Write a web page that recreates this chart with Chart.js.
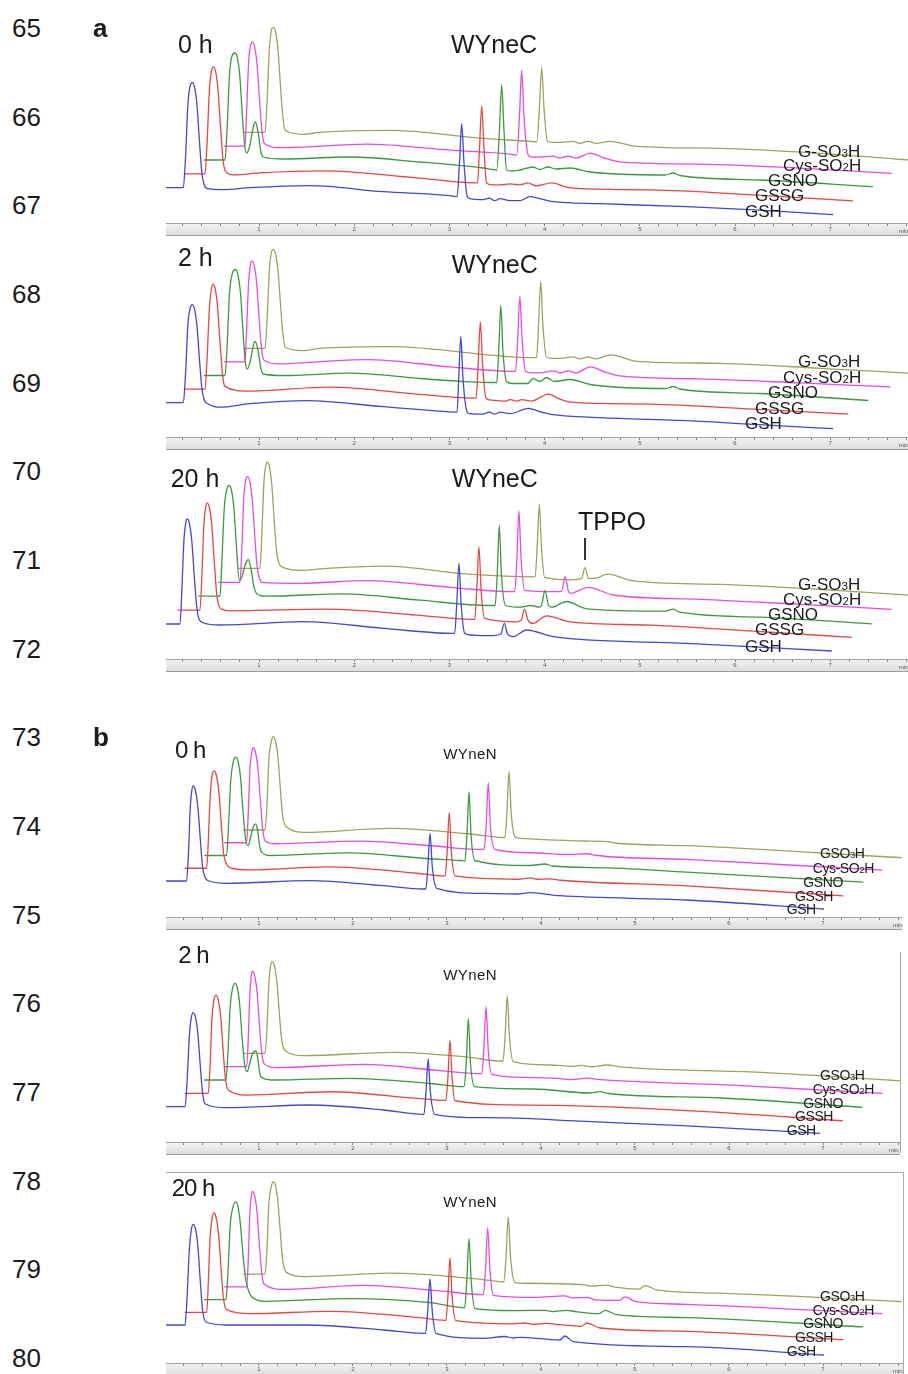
<!DOCTYPE html>
<html>
<head>
<meta charset="utf-8">
<script src="https://cdn.jsdelivr.net/npm/chart.js@4.4.1/dist/chart.umd.min.js"></script>
<style>
  html, body { margin: 0; padding: 0; background: #fff; }
  body { width: 908px; height: 1374px; position: relative; overflow: hidden;
         font-family: 'Liberation Sans', Arial, sans-serif; color: #1a1a1a; }
  .txt { position: absolute; line-height: 1; white-space: nowrap; }
  .txt sub { font-size: 0.68em; vertical-align: baseline; line-height: 1; }
  .panel { position: absolute; }
  .frame { position: absolute; background: #a8a8a8; }
</style>
</head>
<body>
<script>
// ===================================
// HPLC traces, WYneC (a) and WYneN (b)
// each trace: [time (min), signal] pairs, signal relative to the trace's own start baseline
// ===================================

// --- a, 0 h ---
const a0_GSH = [0.02,0, 0.205,0, 0.228,30, 0.254,85, 0.275,101, 0.299,105, 0.324,100, 0.349,82, 0.374,47, 0.399,16, 0.424,3, 0.464,-1, 0.622,-2, 0.905,0, 1.536,2, 2.303,-4, 3.006,-8, 3.08,-9, 3.106,25, 3.129,64, 3.153,25, 3.185,-8, 3.216,-11, 3.353,-12, 3.42,-10.5, 3.475,-13, 3.53,-11, 3.636,-13, 3.74,-13, 3.845,-9, 3.95,-11, 4.088,-14, 4.58,-16, 5.495,-19, 6.26,-22.5, 7.03,-27];
const a0_GSSG = [0,0, 0.223,0, 0.244,30, 0.27,86, 0.29,103, 0.31,107, 0.335,102, 0.36,83, 0.385,48, 0.41,16, 0.435,3, 0.52,-1, 0.80,1, 1.462,3, 2.447,-4, 3.059,-9, 3.085,-9, 3.106,25, 3.129,68, 3.153,25, 3.18,-9, 3.237,-11, 3.32,-11, 3.426,-10, 3.53,-11, 3.616,-9, 3.70,-12, 3.865,-9, 4.057,-14, 4.90,-16, 5.98,-21, 7.03,-27];
const a0_GSNO = [0,0, 0.223,0, 0.244,30, 0.27,85, 0.296,104, 0.328,107, 0.353,102, 0.378,84, 0.403,48, 0.428,16, 0.45,7, 0.485,15, 0.517,32, 0.541,38, 0.57,28, 0.60,8, 0.625,3, 0.835,1, 1.536,3, 2.27,-2, 2.936,-8, 3.077,-10, 3.106,30, 3.129,75, 3.153,30, 3.18,-10, 3.237,-11, 3.32,-10, 3.458,-7, 3.53,-9.5, 3.616,-7, 3.70,-9, 3.847,-8, 4.057,-12, 4.845,-15, 4.93,-13, 5.0,-15.5, 5.843,-20, 7.03,-26.7];
const a0_CysSO2H = [0,0, 0.223,0, 0.238,30, 0.26,82, 0.28,100, 0.30,104, 0.325,99, 0.35,81, 0.375,47, 0.40,16, 0.425,3, 0.59,-1.5, 0.80,-1, 1.50,2, 2.376,-4, 3.006,-8, 3.077,-9, 3.106,30, 3.129,76, 3.153,30, 3.198,-9, 3.237,-11, 3.32,-11, 3.458,-10, 3.53,-12, 3.616,-10, 3.70,-12, 3.847,-7, 4.0,-12, 4.16,-15.7, 5.0,-18, 6.05,-22, 7.016,-27.3];
const a0_GSO3H = [0,0, 0.223,0, 0.244,30, 0.27,85, 0.29,102, 0.31,105, 0.335,100, 0.36,82, 0.385,47, 0.41,16, 0.435,2, 0.625,-2, 0.80,0, 1.536,2, 2.513,-6, 3.006,-9, 3.077,-9.5, 3.106,25, 3.129,64.6, 3.153,25, 3.19,-9, 3.237,-10, 3.32,-10, 3.458,-9, 3.53,-11, 3.616,-9, 3.70,-11, 3.847,-9, 4.127,-14, 5.0,-16, 6.05,-21, 7.03,-28];

// --- a, 2 h ---
const a1_GSH = [0.02,0, 0.205,0, 0.228,28, 0.254,80, 0.275,94, 0.299,98, 0.324,93, 0.349,76, 0.374,44, 0.399,15, 0.424,3, 0.464,-1, 0.59,-4.5, 0.905,-1, 1.50,2, 2.303,-4, 2.975,-9, 3.08,-9.5, 3.098,25, 3.12,66, 3.142,25, 3.185,-9, 3.216,-11, 3.35,-11.5, 3.42,-9.5, 3.475,-11.5, 3.53,-9.5, 3.636,-11, 3.83,-5.6, 3.95,-9, 4.09,-12, 4.58,-15, 5.495,-18, 6.26,-22, 7.03,-26];
const a1_GSSG = [0,0, 0.223,0, 0.244,30, 0.27,83, 0.29,100, 0.305,105, 0.33,100, 0.355,82, 0.38,47, 0.405,16, 0.43,3, 0.66,-2, 1.536,2, 2.447,-5, 3.04,-9, 3.07,-9, 3.092,25, 3.115,67, 3.138,25, 3.175,-9.5, 3.23,-11, 3.38,-12, 3.426,-10.5, 3.5,-12, 3.55,-10.5, 3.65,-12, 3.83,-5, 3.95,-10, 4.06,-13, 4.9,-15, 5.98,-20, 6.98,-25];
const a1_GSNO = [0,0, 0.223,0, 0.244,28, 0.27,82, 0.30,102, 0.335,106, 0.36,100, 0.385,83, 0.41,47, 0.435,14, 0.457,6.4, 0.49,15, 0.52,30, 0.541,34, 0.57,25, 0.60,7, 0.625,1.5, 0.835,0, 1.536,2.4, 2.27,-3, 2.796,-6.3, 3.077,-7, 3.098,25, 3.12,70, 3.142,25, 3.18,-6, 3.237,-8, 3.40,-8, 3.46,-3, 3.53,-6, 3.60,-2, 3.68,-6, 3.85,-4, 4.06,-9, 4.85,-13, 4.93,-11, 5.0,-13.5, 5.84,-18, 6.98,-25];
const a1_CysSO2H = [0,0, 0.223,0, 0.238,28, 0.26,78, 0.28,97, 0.295,101, 0.32,96, 0.345,79, 0.37,45, 0.395,15, 0.42,2, 0.59,-2, 0.80,-1, 1.50,2.3, 2.376,-5, 3.04,-9.4, 3.065,-9.4, 3.088,25, 3.11,65.6, 3.132,25, 3.17,-9.4, 3.237,-11, 3.32,-11, 3.46,-9, 3.53,-11, 3.62,-9, 3.70,-11, 3.85,-5, 4.0,-10, 4.16,-14, 5.0,-17, 6.05,-21, 7.0,-25];
const a1_GSO3H = [0,0, 0.223,0, 0.244,28, 0.27,80, 0.29,96, 0.31,99, 0.335,94, 0.36,77, 0.385,45, 0.41,15, 0.435,1, 0.625,-2.4, 0.80,0, 1.536,1.6, 3.04,-9.4, 3.075,-9.4, 3.097,25, 3.119,66.6, 3.141,25, 3.18,-9, 3.237,-10, 3.32,-10, 3.458,-8.5, 3.53,-10.5, 3.616,-8.5, 3.70,-10.5, 3.85,-6.5, 4.13,-13, 5.0,-15, 6.05,-20, 7.03,-25];

// --- a, 20 h ---
const a2_GSH = [-0.06,0, 0.17,0, 0.19,35, 0.212,85, 0.232,102, 0.247,105, 0.27,100, 0.295,82, 0.32,48, 0.345,18, 0.37,5, 0.42,1, 0.59,-1, 1.465,2.3, 2.306,-4.3, 3.024,-9.3, 3.055,-9.3, 3.077,20, 3.10,60.7, 3.123,20, 3.16,-9.3, 3.22,-11, 3.426,-11.7, 3.54,-10, 3.577,0.7, 3.61,-10, 3.67,-12.7, 3.81,-6, 4.09,-12.7, 5.49,-19.3, 7.016,-27];
const a2_GSSG = [-0.064,0, 0.17,0, 0.19,35, 0.212,87, 0.232,104, 0.247,107, 0.27,102, 0.295,84, 0.32,48, 0.345,17, 0.37,4, 0.40,1, 0.485,-0.7, 1.50,1, 2.447,-5, 3.024,-9.3, 3.055,-9.3, 3.077,20, 3.10,63.3, 3.123,20, 3.16,-8.3, 3.497,-11.7, 3.545,-10, 3.579,1, 3.615,-10, 3.668,-13.3, 3.81,-5.7, 4.057,-11.7, 4.90,-15, 5.98,-21, 7.016,-27.3];
const a2_GSNO = [-0.058,0, 0.17,0, 0.19,35, 0.215,88, 0.24,106, 0.268,110.7, 0.293,105, 0.318,86, 0.343,50, 0.373,16, 0.40,19, 0.43,30, 0.467,36.7, 0.50,25, 0.53,8, 0.556,2.4, 0.65,0, 1.465,2.4, 2.27,-4, 3.006,-9.3, 3.06,-9.3, 3.082,22, 3.104,70.7, 3.126,22, 3.17,-9.3, 3.32,-11, 3.43,-9.3, 3.53,-11, 3.55,-8, 3.584,5.7, 3.62,-9, 3.654,-11, 3.81,-5.3, 4.02,-12.6, 4.85,-15, 4.93,-13, 5.0,-16, 5.84,-21, 7.016,-27.6];
const a2_CysSO2H = [-0.058,0, 0.17,0, 0.19,35, 0.212,87, 0.232,103, 0.251,105.6, 0.275,100, 0.30,82, 0.325,47, 0.35,16, 0.375,4, 0.40,0, 0.80,-1, 1.50,1.6, 2.376,-5, 3.024,-9.4, 3.057,-9.4, 3.079,25, 3.10,71.3, 3.122,25, 3.16,-8, 3.461,-9.4, 3.55,-9, 3.584,5.6, 3.62,-9, 3.637,-11, 3.83,-5, 4.09,-12.7, 5.0,-17, 6.05,-22, 7.016,-27];
const a2_GSO3H = [-0.058,0, 0.17,0, 0.19,35, 0.212,87, 0.232,103, 0.247,106.6, 0.27,101, 0.295,83, 0.32,48, 0.345,17, 0.37,5, 0.398,1.6, 0.62,-2, 0.80,-0.5, 1.465,2.3, 2.4,-6, 3.041,-8.4, 3.06,-8.4, 3.082,22, 3.104,64, 3.126,22, 3.16,-9, 3.43,-11.4, 3.55,-10, 3.584,1, 3.62,-10, 3.69,-10, 3.82,-5.7, 4.09,-12.4, 5.0,-16, 6.05,-21, 7.03,-27];
// TPPO marker on the G-SO3H trace, 20 h: [time, low signal, high signal]
const a2_tppoMark = [3.584, 8.4, 30.4];

// --- b, 0 h ---
const b0_GSH = [0.01,0, 0.23,0, 0.25,28, 0.27,75, 0.285,90, 0.30,95, 0.325,90, 0.35,74, 0.375,43, 0.40,14, 0.425,4, 0.47,0, 0.656,-2.3, 1.54,0.3, 2.32,-4.7, 2.748,-8, 2.775,-8, 2.797,15, 2.82,47.7, 2.843,15, 2.89,-7.3, 3.386,-12.3, 3.75,-13, 3.883,-11.7, 4.2,-14.7, 5.55,-19, 7.01,-28];
const b0_GSSH = [0,0, 0.234,0, 0.25,25, 0.27,70, 0.29,92, 0.314,97.3, 0.339,92, 0.364,76, 0.389,44, 0.414,15, 0.446,4, 0.50,0, 0.694,-1.7, 1.51,1.3, 2.47,-5, 2.75,-7.7, 2.77,-7.7, 2.792,17, 2.814,55.7, 2.836,17, 2.875,-7.7, 3.55,-11, 3.673,-9.7, 3.75,-11, 3.886,-10.7, 4.0,-12, 5.34,-17.7, 7.006,-27.7];
const b0_GSNO = [0,0, 0.236,0, 0.255,28, 0.28,75, 0.31,95, 0.335,98.4, 0.36,93, 0.385,77, 0.41,44, 0.44,15, 0.466,10, 0.49,18, 0.52,29, 0.548,31.7, 0.57,22, 0.59,8, 0.609,3.4, 0.70,0, 1.548,2.7, 2.35,-3, 2.718,-5, 2.77,-5.5, 2.792,20, 2.814,63.4, 2.836,20, 2.878,-5, 3.463,-10, 3.623,-8.5, 3.7,-10.5, 4.279,-12.3, 5.13,-16.6, 7.009,-26.6];
const b0_CysSO2H = [0,0, 0.239,0, 0.255,28, 0.275,75, 0.293,90, 0.309,95, 0.334,90, 0.359,74, 0.384,43, 0.409,14, 0.434,2, 0.55,-1, 1.45,1.6, 2.2,-3, 2.721,-6.7, 2.765,-6.7, 2.787,18, 2.809,60, 2.831,18, 2.88,-6.7, 3.253,-10, 3.643,-11.7, 3.873,-11, 3.95,-12.5, 4.92,-16.7, 7.0,-27.4];
const b0_GSO3H = [-0.007,0, 0.224,0, 0.245,25, 0.265,70, 0.29,88, 0.312,93.3, 0.337,88, 0.362,73, 0.387,42, 0.412,14, 0.455,3, 0.649,-2.3, 1.554,1.7, 2.4,-4, 2.724,-7.3, 2.775,-7.5, 2.797,17, 2.82,58.3, 2.843,17, 2.883,-6.7, 2.937,-8.3, 3.61,-11, 3.876,-11.7, 3.95,-13, 4.71,-15.7, 7.0,-27.7];

// --- b, 2 h ---
const b1_GSH = [0.01,0, 0.213,0, 0.235,25, 0.26,72, 0.28,89, 0.30,94, 0.325,89, 0.35,73, 0.375,42, 0.40,14, 0.425,3, 0.656,-1, 1.543,1.7, 2.322,-3.3, 2.741,-7.6, 2.755,-7.6, 2.777,15, 2.80,47.7, 2.823,15, 2.87,-7.6, 3.386,-11, 3.9,-12, 4.3,-14, 5.5,-19, 6.968,-26.6];
const b1_GSSH = [0,0, 0.25,0, 0.27,28, 0.29,75, 0.31,93, 0.333,98.3, 0.358,93, 0.383,77, 0.408,44, 0.433,15, 0.463,3.3, 0.659,-1.7, 1.545,1.6, 2.468,-5, 2.769,-7, 2.778,-7, 2.80,16, 2.822,53.3, 2.844,16, 2.875,-7.4, 3.673,-11.7, 4.0,-12, 5.5,-18, 7.0,-27.4];
const b1_GSNO = [-0.005,0, 0.229,0, 0.25,28, 0.275,75, 0.30,92, 0.325,96.7, 0.35,92, 0.375,75, 0.40,43, 0.43,14, 0.456,8.3, 0.48,16, 0.51,26, 0.548,29, 0.57,20, 0.59,6, 0.626,1.7, 0.75,0, 1.548,1.7, 2.4,-3.5, 2.753,-6.7, 2.763,-6.7, 2.785,18, 2.807,61.7, 2.829,18, 2.875,-6.7, 3.5,-9, 4.1,-13, 4.207,-11.7, 4.3,-13.5, 5.5,-18, 7.0,-27.3];
const b1_CysSO2H = [0,0, 0.239,0, 0.255,25, 0.272,72, 0.287,90, 0.299,95.6, 0.324,91, 0.349,75, 0.374,43, 0.399,14, 0.424,3, 0.55,-1, 1.48,2.3, 2.3,-4, 2.721,-7, 2.74,-7, 2.762,18, 2.785,60, 2.808,18, 2.845,-7.7, 3.3,-11, 3.572,-12, 3.7,-13, 3.856,-11.5, 4.0,-13, 5.5,-19, 7.0,-26.7];
const b1_GSO3H = [-0.007,0, 0.224,0, 0.245,25, 0.265,70, 0.283,87, 0.301,91.6, 0.326,87, 0.351,71, 0.376,41, 0.401,14, 0.455,1.6, 0.639,-2.4, 1.589,1, 2.4,-4, 2.724,-7.7, 2.756,-7.7, 2.778,17, 2.801,57.3, 2.824,17, 2.865,-8.4, 3.256,-11.7, 3.5,-13, 3.593,-12, 3.7,-13.5, 3.859,-11.7, 4.0,-13.5, 5.5,-19, 6.979,-27.4];

// --- b, 20 h ---
const b2_GSH = [0.01,0, 0.213,0, 0.235,27, 0.26,77, 0.28,95, 0.30,100.7, 0.325,96, 0.35,79, 0.375,45, 0.40,15, 0.436,3, 0.656,0, 1.507,0, 2.322,-5, 2.748,-8.3, 2.772,-8.3, 2.795,14, 2.819,46, 2.843,14, 2.883,-8.3, 3.386,-13.3, 3.617,-11.5, 3.7,-13, 3.777,-12.3, 4.2,-15, 4.255,-11, 4.344,-16.7, 5.55,-21.7, 7.01,-30];
const b2_GSSH = [0,0, 0.234,0, 0.25,27, 0.27,75, 0.29,93, 0.311,99.3, 0.336,94, 0.361,77, 0.386,45, 0.411,15, 0.446,2.6, 0.694,-1.4, 1.545,1, 2.468,-5, 2.77,-8, 2.778,-8, 2.80,16, 2.822,54.3, 2.844,16, 2.886,-8.4, 3.5,-11.5, 3.62,-10.7, 3.7,-12, 3.851,-11, 3.95,-12, 4.22,-14, 4.276,-10.7, 4.418,-15.7, 5.34,-19, 7.006,-27.4];
const b2_GSNO = [-0.005,0, 0.229,0, 0.25,27, 0.275,75, 0.305,93, 0.332,97.7, 0.357,93, 0.382,76, 0.41,45, 0.44,20, 0.48,6, 0.53,1, 0.644,-1.7, 1.548,1, 2.4,-3, 2.753,-8, 2.768,-8, 2.79,18, 2.814,61, 2.838,18, 2.878,-9, 3.3,-11, 3.623,-10.7, 3.7,-12, 3.853,-10.7, 3.95,-12, 4.2,-14, 4.261,-10.7, 4.385,-15, 5.13,-18, 7.009,-27.3];
const b2_CysSO2H = [0,0, 0.239,0, 0.255,25, 0.272,72, 0.287,90, 0.299,95.6, 0.324,91, 0.349,75, 0.374,43, 0.399,14, 0.424,3, 0.628,-2.4, 1.48,1.6, 2.3,-4, 2.739,-7.7, 2.757,-7.7, 2.78,18, 2.803,59.3, 2.826,18, 2.863,-8.4, 3.3,-10.5, 3.625,-9, 3.7,-11, 3.856,-10.5, 3.95,-13, 4.2,-13.5, 4.264,-10, 4.37,-14.4, 4.92,-17.4, 7.0,-26.7];
const b2_GSO3H = [-0.007,0, 0.224,0, 0.245,25, 0.265,70, 0.29,87, 0.312,92.6, 0.337,88, 0.362,72, 0.387,42, 0.412,14, 0.455,1.6, 0.649,-2.4, 1.554,1, 2.4,-4, 2.724,-7.4, 2.765,-7.6, 2.788,17, 2.812,57, 2.836,17, 2.883,-8.4, 2.937,-9, 3.628,-10.7, 3.7,-12, 3.859,-11, 3.95,-13, 4.2,-15, 4.266,-11.4, 4.391,-15.7, 5.064,-19, 7.0,-27.4];

// --- labels ---
const timeLabels = ['0 h', '2 h', '20 h', '0 h', '2 h', '20 h'];
const compoundLabels = ['WYneC', 'WYneC', 'WYneC', 'WYneN', 'WYneN', 'WYneN'];
const traceLabelsA = ['GSH', 'GSSG', 'GSNO', 'Cys-SO<sub>2</sub>H', 'G-SO<sub>3</sub>H'];
const traceLabelsB = ['GSH', 'GSSH', 'GSNO', 'Cys-SO<sub>2</sub>H', 'GSO<sub>3</sub>H'];
const axisMinutes = [1, 2, 3, 4, 5, 6, 7];
const lineNumbers = [65, 66, 67, 68, 69, 70, 71, 72, 73, 74, 75, 76, 77, 78, 79, 80];

const traceColors = ['#4646d6', '#e64646', '#3b9a40', '#ea4ae2', '#a2a05a'];
const shiftMin = 0.21;   // waterfall offset per trace, minutes

// panel layout
const panels = [
    { top: 20,   width: 742, plotH: 203, yMin: -35.3, xMin: 0.023, xMax: 7.817, stepAU: 13.85,
      traces: [a0_GSH, a0_GSSG, a0_GSNO, a0_CysSO2H, a0_GSO3H], names: traceLabelsA,
      labelX: [745, 755, 768, 783, 798], labelY: [217, 201.5, 186.5, 171.5, 157.3],
      title: [178, 53.3], comp: [451, 53.3], minX: 899 },
    { top: 240,  width: 742, plotH: 197, yMin: -34.3, xMin: 0.023, xMax: 7.817, stepAU: 13.6,
      traces: [a1_GSH, a1_GSSG, a1_GSNO, a1_CysSO2H, a1_GSO3H], names: traceLabelsA,
      labelX: [745, 755, 768, 783, 798], labelY: [429.5, 414, 398.5, 383, 367.5],
      title: [178, 266], comp: [451.7, 273], minX: 899 },
    { top: 455,  width: 742, plotH: 204, yMin: -35, xMin: 0.023, xMax: 7.817, stepAU: 13.9,
      traces: [a2_GSH, a2_GSSG, a2_GSNO, a2_CysSO2H, a2_GSO3H], names: traceLabelsA,
      labelX: [745, 755, 768, 783, 798], labelY: [652, 635.5, 620.5, 605.5, 590.5],
      title: [170.7, 486.7], comp: [451.7, 487], minX: 899, mark: a2_tppoMark },
    { top: 730,  width: 736, plotH: 187, yMin: -36, xMin: 0.011, xMax: 7.84, stepAU: 12.75,
      traces: [b0_GSH, b0_GSSH, b0_GSNO, b0_CysSO2H, b0_GSO3H], names: traceLabelsB,
      labelX: [786.7, 795, 803.3, 812.7, 820], labelY: [914, 900.7, 886.7, 872.5, 858.3],
      title: [175, 758.3], comp: [443.3, 758.3], minX: 893 },
    { top: 950,  width: 734, plotH: 192, yMin: -35.3, xMin: 0.011, xMax: 7.819, stepAU: 13.35,
      traces: [b1_GSH, b1_GSSH, b1_GSNO, b1_CysSO2H, b1_GSO3H], names: traceLabelsB,
      labelX: [786.7, 795, 803.3, 812.7, 820], labelY: [1135, 1121, 1107.7, 1094, 1080],
      title: [178.3, 963.3], comp: [443.3, 980], minX: 889 },
    { top: 1175, width: 737, plotH: 188, yMin: -38, xMin: 0.011, xMax: 7.851, stepAU: 12.7,
      traces: [b2_GSH, b2_GSSH, b2_GSNO, b2_CysSO2H, b2_GSO3H], names: traceLabelsB,
      labelX: [786.7, 795, 803.3, 812.7, 820], labelY: [1355.7, 1342.3, 1328.3, 1315, 1301],
      title: [171.7, 1196.7], comp: [443.3, 1206.7], minX: 893 }
];

const AXIS_H = 13;
Chart.defaults.font.family = "'Liberation Sans', Arial, sans-serif";

function addText(html, x, baseline, size, extra) {
    const el = document.createElement('div');
    el.className = 'txt';
    el.innerHTML = html;
    el.style.left = x + 'px';
    el.style.top = (baseline - 0.8465 * size) + 'px';
    el.style.fontSize = size + 'px';
    if (extra) Object.assign(el.style, extra);
    document.body.appendChild(el);
    return el;
}

function addLine(x, y, w, h) {
    const el = document.createElement('div');
    el.className = 'frame';
    Object.assign(el.style, { left: x + 'px', top: y + 'px', width: w + 'px', height: h + 'px' });
    document.body.appendChild(el);
}

function toPoints(flat, i, stepAU) {
    const pts = [];
    for (let k = 0; k < flat.length; k += 2) {
        pts.push({ x: flat[k] + i * shiftMin, y: flat[k + 1] + i * stepAU });
    }
    return pts;
}

// minor ruler ticks every 0.2 min
const rulerTicks = [];
axisMinutes.concat([8]).forEach(m => {
    for (let f = 0; f < 5; f++) rulerTicks.push(Math.round((m - 1 + f * 0.2) * 10) / 10);
});

const rulerPlugin = {
    id: 'ruler',
    beforeDraw(chart) {
        const x = chart.scales.x, ctx = chart.ctx;
        const g = ctx.createLinearGradient(0, x.top, 0, x.bottom);
        g.addColorStop(0, '#f3f3f3');
        g.addColorStop(1, '#dcdcdc');
        ctx.save();
        ctx.fillStyle = g;
        ctx.fillRect(x.left, x.top, x.right - x.left, x.bottom - x.top);
        ctx.fillStyle = '#9c9c9c';
        ctx.fillRect(x.left, x.bottom - 1, x.right - x.left, 1);
        ctx.restore();
    }
};

const markPlugin = {
    id: 'tppoMark',
    afterDatasetsDraw(chart, args, opts) {
        if (!opts.mark) return;
        const [t, lo, hi] = opts.mark;
        const i = 4, step = opts.stepAU;
        const px = chart.scales.x.getPixelForValue(t + i * shiftMin);
        const y1 = chart.scales.y.getPixelForValue(lo + i * step);
        const y2 = chart.scales.y.getPixelForValue(hi + i * step);
        const ctx = chart.ctx;
        ctx.save();
        ctx.strokeStyle = '#333';
        ctx.lineWidth = 2;
        ctx.beginPath();
        ctx.moveTo(px, y1);
        ctx.lineTo(px, y2);
        ctx.stroke();
        ctx.restore();
    }
};

panels.forEach((p, idx) => {
    const canvas = document.createElement('canvas');
    canvas.width = p.width;
    canvas.height = p.plotH + AXIS_H;
    canvas.className = 'panel';
    canvas.style.left = '166px';
    canvas.style.top = p.top + 'px';
    document.body.appendChild(canvas);

    new Chart(canvas, {
        type: 'line',
        data: {
            datasets: p.traces.map((tr, i) => ({
                data: toPoints(tr, i, p.stepAU),
                borderColor: traceColors[i],
                borderWidth: 1.3,
                pointRadius: 0,
                fill: false,
                cubicInterpolationMode: 'monotone'
            }))
        },
        options: {
            responsive: false,
            animation: false,
            devicePixelRatio: 1,
            layout: { padding: 0 },
            events: [],
            plugins: {
                legend: { display: false },
                tooltip: { enabled: false },
                tppoMark: { mark: p.mark || null, stepAU: p.stepAU }
            },
            scales: {
                x: {
                    type: 'linear',
                    min: p.xMin,
                    max: p.xMax,
                    afterFit: s => { s.height = AXIS_H; },
                    afterBuildTicks: s => {
                        s.ticks = rulerTicks.filter(v => v > p.xMin && v < p.xMax).map(v => ({ value: v }));
                    },
                    grid: { drawOnChartArea: false, drawTicks: true, tickLength: 3, tickColor: '#6a6a6a', tickWidth: 0.8 },
                    border: { display: true, color: '#a0a0a0' },
                    ticks: {
                        autoSkip: false,
                        maxRotation: 0,
                        padding: 0,
                        color: '#555',
                        font: { size: 6 },
                        callback: v => axisMinutes.includes(Math.round(v * 10) / 10) ? String(Math.round(v)) : ''
                    }
                },
                y: { display: false, min: p.yMin, max: p.yMin + p.plotH }
            }
        },
        plugins: [rulerPlugin, markPlugin]
    });

    // titles
    const isB = idx >= 3;
    addText(timeLabels[idx], p.title[0], p.title[1], isB ? 24 : 25, isB ? { letterSpacing: '-1px' } : null);
    addText(compoundLabels[idx], p.comp[0], p.comp[1], isB ? 15 : 25, isB ? { letterSpacing: '0.4px' } : null);
    // trace names
    p.names.forEach((n, i) => {
        addText(n, p.labelX[i], p.labelY[i], isB ? 14 : 17, isB ? { letterSpacing: '-0.4px' } : null);
    });
    // "min" at the ruler end
    addText('min', p.minX, p.top + p.plotH + 10, 6, { color: '#555' });
});

// TPPO label
addText('TPPO', 578, 530, 25);

// panel frames in b
addLine(900, 952, 1, 201);
addLine(166, 1172, 737, 1);
addLine(903, 1172, 1, 202);

// line numbers and part letters
lineNumbers.forEach((n, k) => addText(String(n), 12, 37 + k * 88.67, 26));
addText('a', 93, 37, 26, { fontWeight: 'bold' });
addText('b', 93, 746.4, 26, { fontWeight: 'bold' });
</script>
</body>
</html>
